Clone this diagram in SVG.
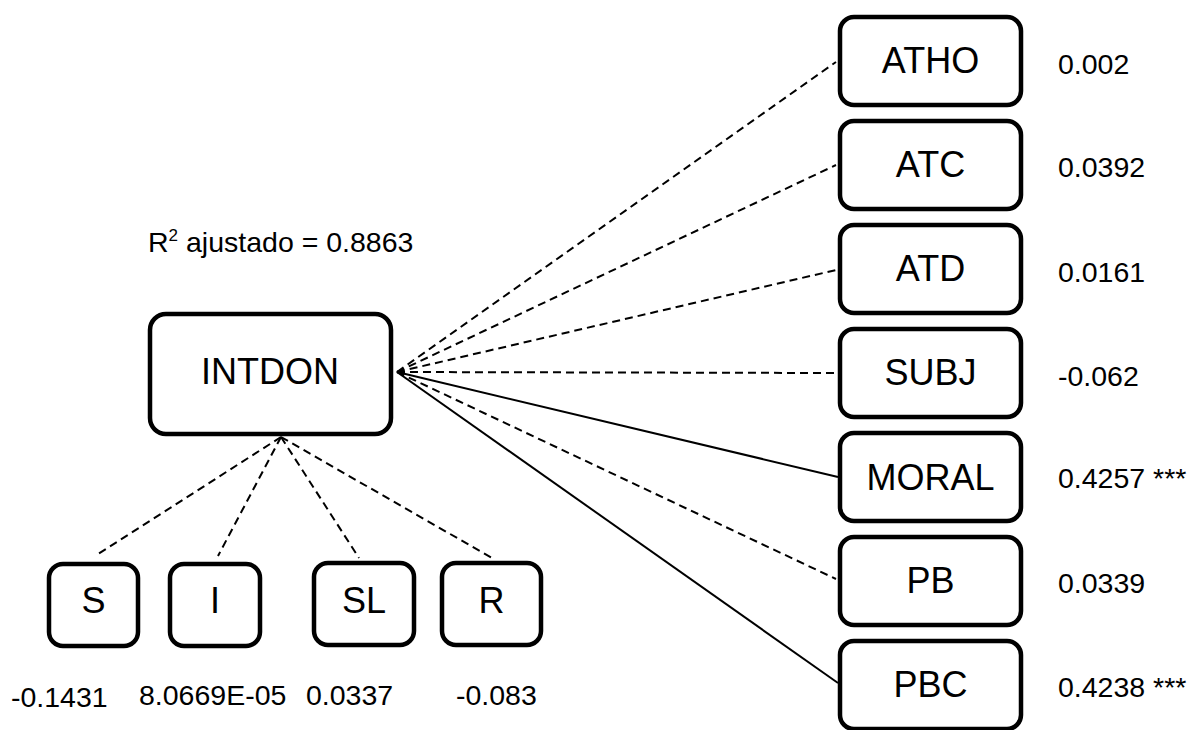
<svg xmlns="http://www.w3.org/2000/svg" width="1192" height="730" viewBox="0 0 1192 730">
<style>
.box{fill:#fff;stroke:#000;stroke-width:4.5}
.lbl{font-family:"Liberation Sans",Arial,sans-serif;font-size:36px;fill:#000;text-anchor:middle}
.val{font-family:"Liberation Sans",Arial,sans-serif;font-size:28.5px;fill:#000}
.dash{fill:none;stroke:#000;stroke-width:2;stroke-dasharray:8,5}
.solid{fill:none;stroke:#000;stroke-width:2}
</style>
<rect width="1192" height="730" fill="#fff"/>
<g id="connectors">
<line class="dash" x1="397" y1="372" x2="836" y2="62"/>
<line class="dash" x1="397" y1="372" x2="836" y2="165"/>
<line class="dash" x1="397" y1="372" x2="836" y2="270"/>
<line class="dash" x1="397" y1="372" x2="836" y2="373"/>
<line class="solid" x1="397" y1="372" x2="838" y2="477"/>
<line class="dash" x1="397" y1="372" x2="836" y2="579"/>
<line class="solid" x1="397" y1="372" x2="838" y2="683"/>
<line class="dash" x1="281" y1="437" x2="95" y2="556"/>
<line class="dash" x1="281" y1="437" x2="218" y2="556"/>
<line class="dash" x1="281" y1="437" x2="359" y2="558"/>
<line class="dash" x1="281" y1="437" x2="492" y2="558"/>
</g>
<g id="INTDON">
<rect class="box" x="150" y="314" width="241" height="120" rx="16" stroke-width="5"/>
<text class="lbl" x="270" y="384">INTDON</text>
</g>
<text class="val" x="148" y="252">R<tspan font-size="17" dy="-11">2</tspan><tspan dy="11"> ajustado = 0.8863</tspan></text>
<g id="ATHO">
<rect class="box" x="840" y="17" width="181" height="88" rx="14"/>
<text class="lbl" x="930.5" y="73">ATHO</text>
<text class="val" x="1058" y="74">0.002</text>
</g>
<g id="ATC">
<rect class="box" x="840" y="121" width="181" height="88" rx="14"/>
<text class="lbl" x="930.5" y="177">ATC</text>
<text class="val" x="1058" y="177">0.0392</text>
</g>
<g id="ATD">
<rect class="box" x="840" y="225" width="181" height="88" rx="14"/>
<text class="lbl" x="930.5" y="281">ATD</text>
<text class="val" x="1058" y="282">0.0161</text>
</g>
<g id="SUBJ">
<rect class="box" x="840" y="329" width="181" height="88" rx="14"/>
<text class="lbl" x="930.5" y="385">SUBJ</text>
<text class="val" x="1058" y="386">-0.062</text>
</g>
<g id="MORAL">
<rect class="box" x="840" y="433" width="181" height="88" rx="14"/>
<text class="lbl" x="930.5" y="490">MORAL</text>
<text class="val" x="1058" y="488">0.4257 ***</text>
</g>
<g id="PB">
<rect class="box" x="840" y="537" width="181" height="88" rx="14"/>
<text class="lbl" x="930.5" y="593">PB</text>
<text class="val" x="1058" y="593">0.0339</text>
</g>
<g id="PBC">
<rect class="box" x="840" y="641" width="181" height="88" rx="14"/>
<text class="lbl" x="930.5" y="697">PBC</text>
<text class="val" x="1058" y="697">0.4238 ***</text>
</g>
<g id="S">
<rect class="box" x="49" y="564" width="89" height="82" rx="14"/>
<text class="lbl" x="93.5" y="613">S</text>
<text class="val" x="11" y="707">-0.1431</text>
</g>
<g id="I">
<rect class="box" x="170" y="564" width="90" height="82" rx="14"/>
<text class="lbl" x="215" y="613">I</text>
<text class="val" x="139" y="705" font-size="26.5">8.0669E-05</text>
</g>
<g id="SL">
<rect class="box" x="314" y="563" width="100" height="82" rx="14"/>
<text class="lbl" x="364" y="613">SL</text>
<text class="val" x="306" y="705">0.0337</text>
</g>
<g id="R">
<rect class="box" x="442" y="563" width="99" height="82" rx="14"/>
<text class="lbl" x="491.5" y="613">R</text>
<text class="val" x="456" y="705">-0.083</text>
</g>
</svg>
